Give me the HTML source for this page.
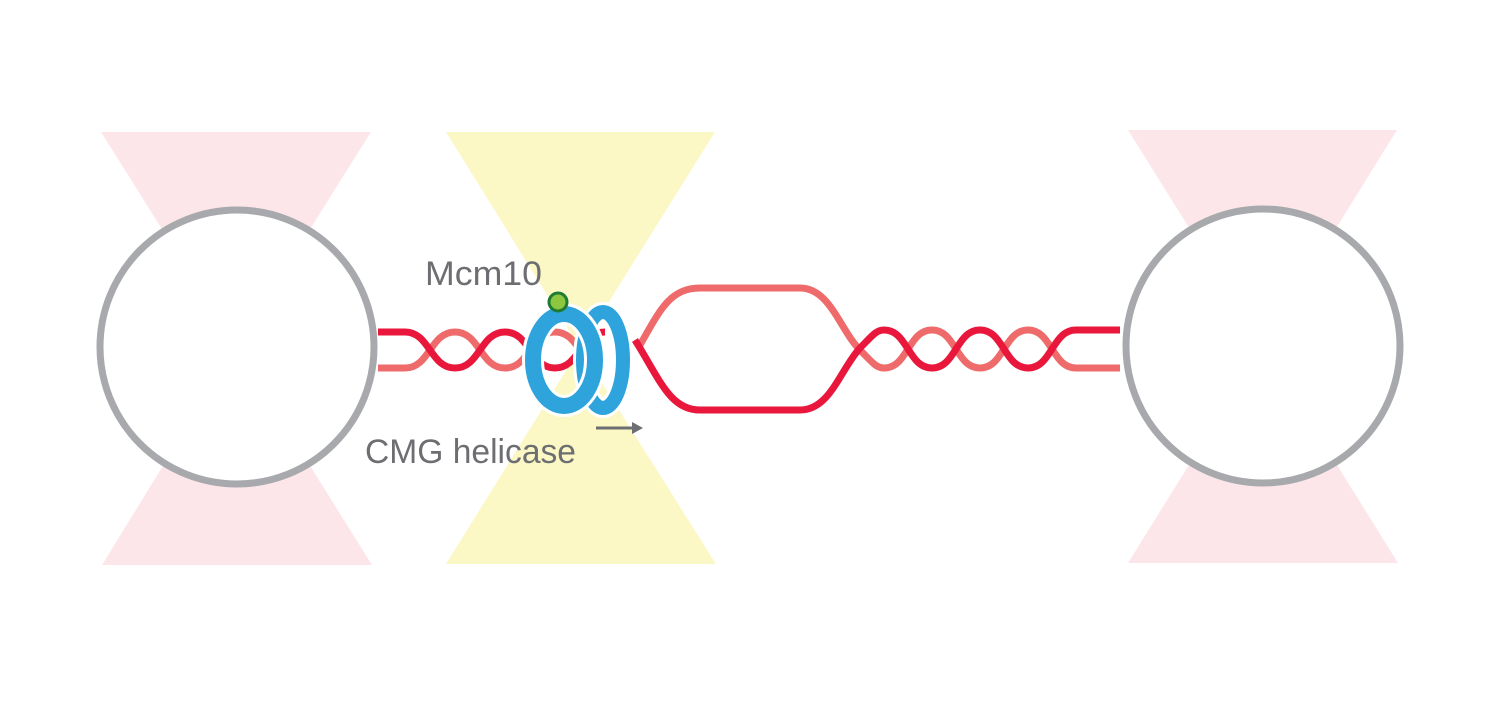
<!DOCTYPE html>
<html><head><style>body{margin:0;background:#fff}</style></head><body>
<svg width="1500" height="700" viewBox="0 0 1500 700" xmlns="http://www.w3.org/2000/svg">
<g fill="#fce6ea">
<polygon points="101,132 371,132 236,347"/><polygon points="102,565 372,565 236,347"/>
<polygon points="1128,130 1397,130 1263,346"/><polygon points="1128,563 1398,563 1263,346"/>
</g>
<g fill="#fbf8c6"><polygon points="446,132 715,132 580,348"/><polygon points="446,564 716,564 580,348"/></g>
<circle cx="237" cy="347" r="137" fill="#fff" stroke="#a7a9ac" stroke-width="7"/>
<circle cx="1263" cy="346" r="137" fill="#fff" stroke="#a7a9ac" stroke-width="7"/>
<g fill="none" stroke-width="7">
<path d="M378,368 L405,368 C430,368 430,332 455,332 C480,332 480,368 505,368 C530,368 530,332 555,332 C580,332 580,368 605,368" stroke="#ef6b6b"/>
<path d="M378,332 L405,332 C430,332 430,368 455,368 C480,368 480,332 505,332 C530,332 530,368 555,368 C580,368 580,332 605,332" stroke="#e8173b"/>
<path d="M640,345 C660,310 670,288 700,288 L800,288 C830,288 840,330 860,350 C872,362 876,368 884,368 C908,368 908,330 932,330 C956,330 956,368 980,368 C1004,368 1004,330 1028,330 C1052,330 1052,368 1076,368 L1120,368" stroke="#ef6b6b"/>
<path d="M635,340 C660,380 670,410 700,410 L800,410 C830,410 840,370 860,348 C872,336 876,330 884,330 C908,330 908,368 932,368 C956,368 956,330 980,330 C1004,330 1004,368 1028,368 C1052,368 1052,330 1076,330 L1120,330" stroke="#e8173b"/>
</g>
<ellipse cx="603" cy="360" rx="20" ry="48" fill="none" stroke="#fff" stroke-width="20"/>
<ellipse cx="603" cy="360" rx="20" ry="48" fill="none" stroke="#2ea3dc" stroke-width="14"/>
<ellipse cx="564" cy="360" rx="31" ry="46" fill="none" stroke="#fff" stroke-width="22"/>
<ellipse cx="564" cy="360" rx="31" ry="46" fill="none" stroke="#2ea3dc" stroke-width="16"/>
<circle cx="558" cy="302" r="9" fill="#8dc63f" stroke="#1e7b34" stroke-width="3"/>
<line x1="596" y1="428" x2="634" y2="428" stroke="#6d6e71" stroke-width="3"/>
<polygon points="632,422 643,428 632,434" fill="#6d6e71"/>
<g font-family="Liberation Sans, sans-serif" font-size="34" fill="#6d6e71">
<text x="425" y="285" textLength="117" lengthAdjust="spacingAndGlyphs">Mcm10</text>
<text x="365" y="463" textLength="211" lengthAdjust="spacingAndGlyphs">CMG helicase</text>
</g>
</svg>
</body></html>
